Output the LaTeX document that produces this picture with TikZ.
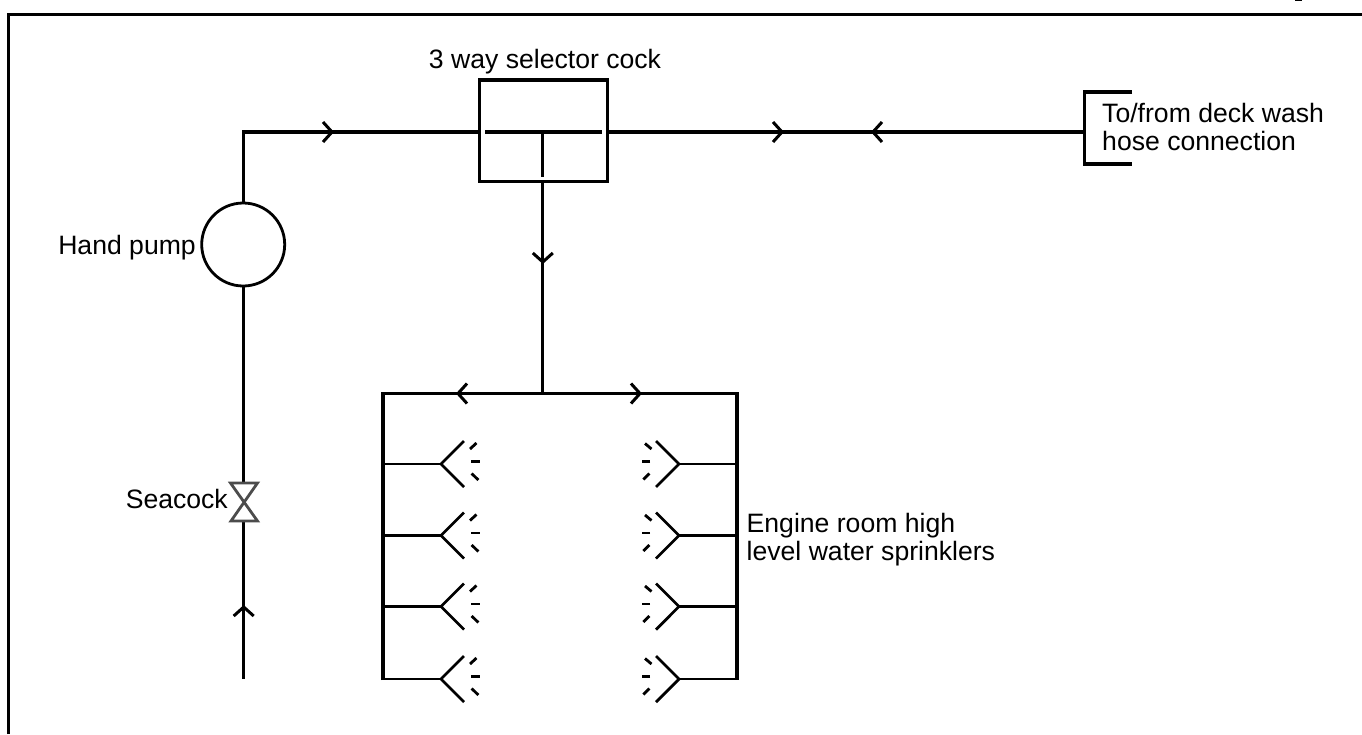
\documentclass[tikz,border=0pt]{standalone}
\usepackage{fontspec}
\setmainfont{Liberation Sans}
\tikzset{
  pipe/.style={line width=3.1pt,black,line cap=butt,line join=miter},
  flow/.style={line width=3pt,black},
  label/.style={font=\fontsize{26.6}{28}\selectfont,inner sep=0pt,align=left,text=black},
  spray/.style={line width=2.8pt,black},
  valve/.style={line width=2.8pt,black!70},
}
% arrow chevron: #1 tip coordinate, #2 rotation (0 = pointing right)
\newcommand{\chev}[2]{\draw[flow,rotate around={#2:(#1)}] ([shift={(-9,-10)}]#1) -- (#1) -- ([shift={(-9,10)}]#1);}
\newcommand{\sprL}[1]{%
  \coordinate (n) at (441,#1);
  \draw[spray] (383,#1) -- (n);
  \draw[spray] (464,#1-23) -- (n) -- (464,#1+23);
  \draw[spray] (471,#1-2.5) -- (480,#1-2.5);
  \draw[spray] (470,#1-15) -- (476.5,#1-21);
  \draw[spray] (471.7,#1+9.5) -- (478.3,#1+16);
}
\newcommand{\sprR}[1]{%
  \coordinate (n) at (679,#1);
  \draw[spray] (737,#1) -- (n);
  \draw[spray] (656,#1-23) -- (n) -- (656,#1+23);
  \draw[spray] (650,#1-2.5) -- (641.5,#1-2.5);
  \draw[spray] (651.5,#1-15) -- (645,#1-20.5);
  \draw[spray] (649.3,#1+9.5) -- (643.3,#1+15.5);
}
\begin{document}
\begin{tikzpicture}[x=1pt,y=-1pt]
\useasboundingbox (0,0) rectangle (1362,734);
% frame
\draw[pipe] (8.2,734) -- (8.2,14.7) -- (1362,14.7);
\fill (1295,0) rectangle (1302,1.2);
% selector cock
\node[draw,line width=3.1pt,outer sep=0pt,minimum width=128.4pt,minimum height=101.3pt,inner sep=0pt,anchor=north west] (cock) at (479.3,80) {};
\node[label,anchor=base] (cocklabel) at (545,68) {3 way selector cock};
\coordinate (cockW) at (485,132);
\coordinate (cockE) at (602.3,132);
\coordinate (cockT) at (542.8,132);
\coordinate (cockB) at (542.8,176.7);
\draw[pipe] (cockW) -- (cockE);
\draw[pipe] (cockT) -- (cockB);
% hand pump
\node[draw,circle,line width=2.8pt,outer sep=0pt,minimum size=83pt,inner sep=0pt] (pump) at (243.2,244.5) {};
\node[label,anchor=base east] (pumplabel) at (196,254) {Hand pump};
\coordinate (corner) at (243.7,132);
\draw[pipe] (corner |- pump.north) -- (corner) -- (cock.west |- corner);
\draw[pipe] (cock.east |- corner) -- (1084.5,132);
% deck connection
\coordinate (dtop) at (1132,92);
\coordinate (dbot) at (1132,164);
\draw[pipe] (dtop) -- (1084.5,92) -- (1084.5,164) -- (dbot);
\node[label,anchor=base west] (decklabel) at (1102,150.5) {To/from deck wash\\hose connection};
% arrows on horizontal
\coordinate (a1) at (332,132);\chev{a1}{0}
\coordinate (a2) at (782,132);\chev{a2}{0}
\coordinate (a3) at (873,132);\chev{a3}{180}
% drop pipe
\coordinate (tee) at (542.8,393.5);
\draw[pipe] (cock.south -| cockT) -- (tee);
\coordinate (a4) at (542.8,262);\chev{a4}{-90}
% manifold
\draw[pipe] (383,680) -- (383,393.5) -- (737,393.5) -- (737,680);
\coordinate (a5) at (458,393.5);\chev{a5}{180}
\coordinate (a6) at (640,393.5);\chev{a6}{0}
% suction
\coordinate (sbot) at (243.7,679);
\coordinate (vtop) at (243.7,482.5);
\coordinate (vbot) at (243.7,521);
\draw[pipe] (corner |- pump.south) -- (vtop);
\draw[pipe] (vbot) -- (sbot);
\coordinate (a7) at (243.7,607);\chev{a7}{90}
% seacock
\node[label,anchor=base east] (sealabel) at (228,508) {Seacock};
\draw[valve] (230.5,483) -- (257.5,483) -- (231,521) -- (257.5,521) -- cycle;
% sprinklers
\sprL{464}\sprL{535.5}\sprL{606.5}\sprL{679}
\sprR{464}\sprR{535.5}\sprR{606.5}\sprR{679}
\node[label,anchor=base west] (sprlabel) at (746.5,560.5) {Engine room high\\level water sprinklers};
\end{tikzpicture}
\end{document}
